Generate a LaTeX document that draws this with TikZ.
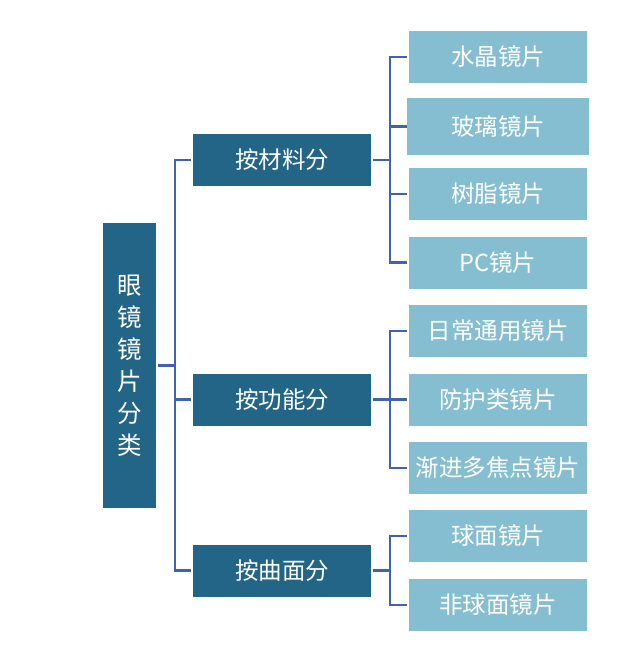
\documentclass[tikz,border=0pt]{standalone}
\usepackage{fontspec}
\setmainfont{Noto Sans CJK SC}
\definecolor{darkbox}{RGB}{35,101,134}
\definecolor{lightbox}{RGB}{132,190,208}
\definecolor{linkblue}{RGB}{64,99,172}
\tikzset{
  rootbox/.style={rectangle, fill=darkbox, text=white, minimum width=53pt, minimum height=285pt, inner sep=0pt, font=\fontsize{24.5}{32}\selectfont, align=center},
  midbox/.style={rectangle, fill=darkbox, text=white, minimum width=178pt, minimum height=52pt, inner sep=0pt, font=\fontsize{23.5}{26}\selectfont},
  leafbox/.style={rectangle, fill=lightbox, text=white, minimum width=178pt, minimum height=52pt, inner sep=0pt, font=\fontsize{23.5}{26}\selectfont},
  link/.style={draw=linkblue, line width=2.2pt}
}
\begin{document}
\begin{tikzpicture}[x=1pt,y=-1pt]
\useasboundingbox (0,0) rectangle (623,655);
\node[rootbox] (root) at (129.5,365.5) {眼\\镜\\镜\\片\\分\\类};
\node[midbox] (ma) at (282,160) {按材料分};
\node[midbox] (mb) at (282,399.5) {按功能分};
\node[midbox] (mc) at (282,570.5) {按曲面分};
\node[leafbox] (a1) at (498,57) {水晶镜片};
\node[leafbox, minimum width=182pt, minimum height=57pt] (a2) at (498,126.5) {玻璃镜片};
\node[leafbox] (a3) at (498,194) {树脂镜片};
\node[leafbox] (a4) at (498,262.5) {PC镜片};
\node[leafbox] (b1) at (498,331) {日常通用镜片};
\node[leafbox] (b2) at (498,399.5) {防护类镜片};
\node[leafbox] (b3) at (498,468) {渐进多焦点镜片};
\node[leafbox] (c1) at (498,536) {球面镜片};
\node[leafbox] (c2) at (498,605) {非球面镜片};
\coordinate (s0) at (175,0);
\coordinate (s1) at (390,0);
% root level
\draw[link] ([xshift=2]root.east) -- (root.east -| s0);
\draw[link] ([xshift=-2]ma.west) -- (ma.west -| s0) -- (mc.west -| s0) -- ([xshift=-2]mc.west);
\draw[link] ([xshift=-2]mb.west) -- (mb.west -| s0);
% group a
\draw[link] ([xshift=2]ma.east) -- (ma.east -| s1);
\draw[link] ([xshift=-2]a1.west) -- (a1.west -| s1) -- (a4.west -| s1) -- ([xshift=-2]a4.west);
\draw[link] (a2.west) -- (a2.west -| s1);
\draw[link] ([xshift=-2]a3.west) -- (a3.west -| s1);
% group b
\draw[link] ([xshift=2]mb.east) -- (mb.east -| s1);
\draw[link] ([xshift=-2]b1.west) -- (b1.west -| s1) -- (b3.west -| s1) -- ([xshift=-2]b3.west);
\draw[link] ([xshift=-2]b2.west) -- (b2.west -| s1);
% group c
\draw[link] ([xshift=2]mc.east) -- (mc.east -| s1);
\draw[link] ([xshift=-2]c1.west) -- (c1.west -| s1) -- (c2.west -| s1) -- ([xshift=-2]c2.west);
\end{tikzpicture}
\end{document}
